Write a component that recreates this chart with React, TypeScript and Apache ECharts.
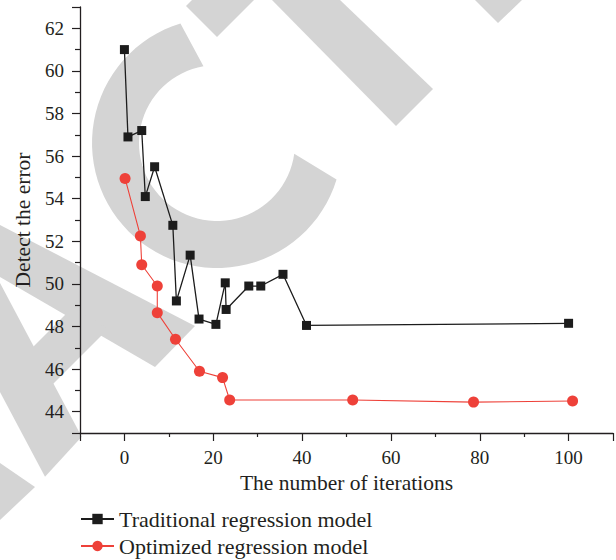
import React, { useEffect, useRef } from 'react';
import * as echarts from 'echarts';

// Iterations (x) and detection error (y)
const traditionalX = [0, 0.8, 3.9, 4.7, 6.8, 10.9, 11.7, 14.8, 16.8, 20.6, 22.7, 22.9, 28.0, 30.7, 35.7, 41.0, 100];
const traditionalY = [61.0, 56.9, 57.2, 54.1, 55.5, 52.75, 49.2, 51.35, 48.35, 48.1, 50.05, 48.8, 49.9, 49.9, 50.45, 48.05, 48.15];
const optimizedX = [0.15, 3.6, 3.9, 7.4, 7.4, 11.5, 16.9, 22.1, 23.7, 51.4, 78.6, 100.9];
const optimizedY = [54.95, 52.25, 50.9, 49.9, 48.65, 47.4, 45.9, 45.6, 44.55, 44.55, 44.45, 44.5];

const seriesNames = ['Traditional regression model', 'Optimized regression model'];
const xTickLabels = [0, 20, 40, 60, 80, 100];
const yTickLabels = [44, 46, 48, 50, 52, 54, 56, 58, 60, 62];

const FONT = '"Liberation Serif", "DejaVu Serif", serif';
const INK = '#231f20';
const WM = '#d4d4d4';

function arcPoints(cx: number, cy: number, r: number, a0: number, a1: number, n: number) {
  const pts: number[][] = [];
  for (let i = 0; i <= n; i++) {
    const a = ((a0 + (a1 - a0) * (i / n)) * Math.PI) / 180;
    pts.push([cx + r * Math.cos(a), cy + r * Math.sin(a)]);
  }
  return pts;
}

export default function App() {
  const ref = useRef<HTMLDivElement>(null);
  useEffect(() => {
    const chart = echarts.init(ref.current!, null, { renderer: 'svg' });
    const cShape = [
      ...arcPoints(217, 143, 125, 253, 17, 60),
      ...arcPoints(217, 143, 78, 8, 260, 60),
    ];
    const wm = (points: number[][]) => ({
      type: 'polygon',
      shape: { points },
      style: { fill: WM },
      z: -10,
      silent: true,
    });
    const option: any = {
      animation: false,
      backgroundColor: '#ffffff',
      graphic: {
        elements: [
          wm(cShape),
          wm([[186, 6], [217, 37], [254, 0], [192, 0]]),
          wm([[272, 0], [340, 0], [433, 89], [396, 126]]),
          wm([[475, 0], [498, 23], [522, 0]]),
          wm([[0, 225], [195, 326], [155, 367], [0, 277]]),
          wm([[0, 283], [81.7, 436.7], [45, 476.7], [0, 392]]),
          wm([[22, 358], [73, 307], [108, 329], [47, 390]]),
          wm([[0, 463], [35, 487], [0, 520]]),
        ],
      },
      grid: { left: 80, right: 3, top: 7, bottom: 127, containLabel: false },
      legend: {
        orient: 'vertical',
        left: 80,
        top: 508,
        padding: 0,
        itemWidth: 33,
        itemHeight: 13,
        itemGap: 5,
        data: seriesNames,
        textStyle: { fontFamily: FONT, fontSize: 22, color: INK },
      },
      xAxis: {
        type: 'value',
        min: -10,
        max: 110,
        splitNumber: 6,
        name: 'The number of iterations',
        nameLocation: 'middle',
        nameGap: 32,
        nameTextStyle: { fontFamily: FONT, fontSize: 21.5, color: INK },
        axisLine: { onZero: false, lineStyle: { color: INK, width: 1.3 } },
        axisTick: { show: true, inside: false, length: 8, lineStyle: { color: INK, width: 1.2 } },
        minorTick: { show: true, splitNumber: 2, length: 4, lineStyle: { color: INK, width: 1.2 } },
        splitLine: { show: false },
        axisLabel: {
          margin: 15,
          fontFamily: FONT,
          fontSize: 19,
          color: INK,
          formatter: (v: number) => (xTickLabels.includes(Math.round(v * 1000) / 1000) ? String(v) : ''),
        },
      },
      yAxis: {
        type: 'value',
        min: 43,
        max: 63,
        splitNumber: 10,
        name: 'Detect the error',
        nameLocation: 'middle',
        nameGap: 44,
        nameTextStyle: { fontFamily: FONT, fontSize: 21.5, color: INK },
        axisLine: { onZero: false, lineStyle: { color: INK, width: 1.3 } },
        axisTick: { show: true, inside: false, length: 8, lineStyle: { color: INK, width: 1.2 } },
        minorTick: { show: true, splitNumber: 2, length: 5, lineStyle: { color: INK, width: 1.2 } },
        splitLine: { show: false },
        axisLabel: {
          margin: 16,
          fontFamily: FONT,
          fontSize: 19,
          color: INK,
          formatter: (v: number) => (yTickLabels.includes(Math.round(v * 1000) / 1000) ? String(v) : ''),
        },
      },
      series: [
        {
          name: seriesNames[0],
          type: 'line',
          data: traditionalX.map((x, i) => [x, traditionalY[i]]),
          symbol: 'rect',
          symbolSize: 9,
          itemStyle: { color: '#1c1c1c' },
          lineStyle: { color: '#1c1c1c', width: 1.3 },
          z: 3,
        },
        {
          name: seriesNames[1],
          type: 'line',
          data: optimizedX.map((x, i) => [x, optimizedY[i]]),
          symbol: 'circle',
          symbolSize: 11,
          itemStyle: { color: '#ee4139' },
          lineStyle: { color: '#ee4139', width: 1.1 },
          z: 3,
        },
      ],
    };
    chart.setOption(option);
    return () => chart.dispose();
  }, []);
  return (
    <div
      ref={ref}
      style={{ position: 'fixed', left: 0, top: 0, width: 616, height: 560 }}
    />
  );
}
